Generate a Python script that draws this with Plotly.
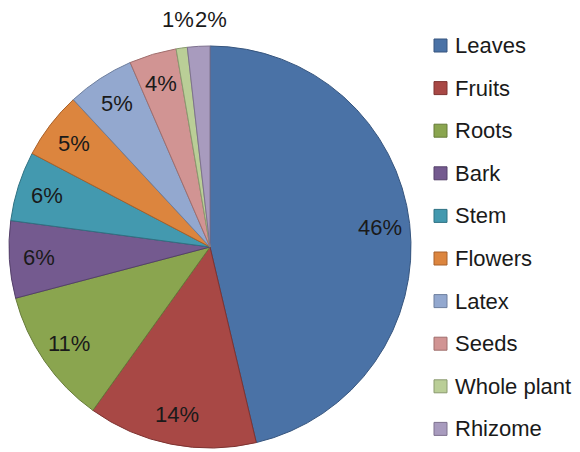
import math
import plotly.graph_objects as go

categories = ["Leaves", "Fruits", "Roots", "Bark", "Stem", "Flowers", "Latex", "Seeds", "Whole plant", "Rhizome"]
shares = [46.3, 13.6, 11.0, 6.2, 5.6, 5.4, 5.4, 3.8, 0.9, 1.8]
fill_colors = ["#4A72A6", "#A84845", "#8AA54F", "#745A8F", "#4399AF",
               "#DC853E", "#93A8CF", "#D19493", "#BACE97", "#A89BBE"]
edge_colors = ["#36557E", "#7E3331", "#667B39", "#54406A", "#2F7283",
               "#A8612A", "#6E7F9E", "#A06E6D", "#8A9A6F", "#7E728F"]
outside_labels = ["Whole plant", "Rhizome"]

# page body has an 8px margin: figure drawn in window from (8, 8)
OFF = 8
W, H = 572, 444
FONT = "Liberation Sans, Arial, sans-serif"
TXT = "#1a1a1a"


def px(x):
    return (x - OFF) / W


def py(y):
    return 1 - (y - OFF) / H


CX, CY, R = 210, 247, 201

fig = go.Figure()
fig.add_trace(go.Pie(
    labels=categories,
    values=shares,
    sort=False,
    direction="clockwise",
    rotation=0,
    marker=dict(colors=fill_colors, line=dict(color=edge_colors, width=1)),
    textinfo="none",
    showlegend=False,
    automargin=False,
    hoverinfo="label+percent",
    domain=dict(x=[px(CX - R), px(CX + R)], y=[py(CY + R), py(CY - R)]),
))

annotations = []
shapes = []

# percentage labels, placed at each slice's mid-angle
total = sum(shares)
cum = 0.0
prev_right = None
for name, v in zip(categories, shares):
    mid = (cum + v / 2) / total * 2 * math.pi
    cum += v
    pct = f"{round(v / total * 100):d}%"
    if name in outside_labels:
        r = R * 1.14
        x = CX + r * math.sin(mid)
        y = 19.5
        if prev_right is not None and x - 16.5 < prev_right:
            x = prev_right + 16.5
        prev_right = x + 16.5
    else:
        r = R * 0.85
        x = CX + r * math.sin(mid)
        y = CY - r * math.cos(mid)
    annotations.append(dict(x=px(x), y=py(y), xref="paper", yref="paper", text=pct,
                            showarrow=False, xanchor="center", yanchor="middle",
                            font=dict(family=FONT, size=22, color=TXT)))

# legend drawn as squares + text
y0, step = 45.5, 42.6
for i, (name, fc, ec) in enumerate(zip(categories, fill_colors, edge_colors)):
    cy = y0 + i * step
    shapes.append(dict(type="rect", xref="paper", yref="paper",
                       x0=px(434), x1=px(447), y0=py(cy + 6.5), y1=py(cy - 6.5),
                       fillcolor=fc, line=dict(color=ec, width=1)))
    annotations.append(dict(x=px(453), y=py(cy), xref="paper", yref="paper",
                            text=name, showarrow=False, xanchor="left", yanchor="middle",
                            font=dict(family=FONT, size=22, color=TXT)))

fig.update_layout(
    width=W, height=H,
    margin=dict(l=0, r=0, t=0, b=0),
    paper_bgcolor="white",
    plot_bgcolor="white",
    shapes=shapes,
    annotations=annotations,
)

fig.write_html("out.html")
